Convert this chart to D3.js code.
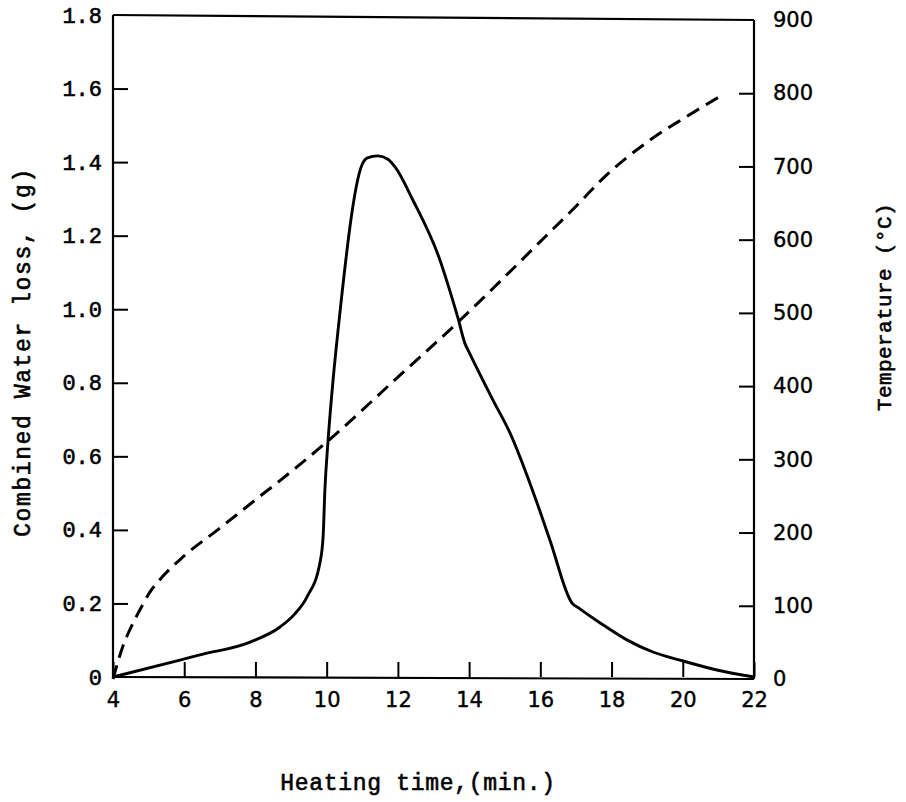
<!DOCTYPE html>
<html>
<head>
<meta charset="utf-8">
<script src="https://cdn.jsdelivr.net/npm/d3@7"></script>
<style>
  html, body { margin: 0; padding: 0; background: #fff; }
  svg { display: block; }
</style>
</head>
<body>
<svg id="chart" width="906" height="802"></svg>
<script>
// ---- data ----
const xTicks = [4, 6, 8, 10, 12, 14, 16, 18, 20, 22];
const yLeftTicks = [0, 0.2, 0.4, 0.6, 0.8, 1.0, 1.2, 1.4, 1.6, 1.8];
const yLeftLabels = ["0", "0.2", "0.4", "0.6", "0.8", "1.0", "1.2", "1.4", "1.6", "1.8"];
const yRightTicks = [0, 100, 200, 300, 400, 500, 600, 700, 800, 900];

// Combined water loss (g) vs heating time (min) - solid
const waterTime = [4, 5.88, 6.44, 7.85, 8.69, 9.1, 9.45, 9.81, 9.90, 9.95, 10.04, 10.18, 10.32, 10.99, 11.13, 11.44, 11.72, 11.92, 12.42, 13.18, 13.46, 13.69, 13.89, 13.97, 14.67, 15.15, 15.85, 16.27, 16.89, 17.1, 17.68, 18.43, 19.16, 19.92, 20.96, 22];
const waterLoss = [0, 0.046, 0.060, 0.095, 0.136, 0.171, 0.218, 0.31, 0.381, 0.508, 0.644, 0.808, 0.943, 1.392, 1.411, 1.417, 1.408, 1.387, 1.297, 1.134, 1.05, 0.975, 0.905, 0.889, 0.753, 0.663, 0.489, 0.372, 0.201, 0.186, 0.147, 0.101, 0.068, 0.046, 0.019, 0];

// Temperature (°C) vs heating time (min) - dashed
const tempTime = [4, 4.28, 4.56, 4.84, 5.04, 5.32, 5.97, 6.92, 8.27, 8.69, 9.25, 10.01, 12.06, 13.66, 14.87, 15.99, 17.11, 17.68, 19.08, 20.0, 21.13];
const temperature = [0, 45, 76, 102, 119, 136, 167, 203, 255, 271, 293, 324, 415, 486, 543, 597, 651, 680, 736, 765, 798];

// ---- layout ----
const svg = d3.select("#chart");
const left = 113, right = 754;

const x = d3.scaleLinear().domain([4, 22]).range([left, right]);
const yL = d3.scaleLinear().domain([0, 1.8]).range([677, 15]);
const yR = d3.scaleLinear().domain([0, 900]).range([679, 20]);

const numFont = "'DejaVu Sans', sans-serif";
const monoFont = "'Liberation Mono', 'DejaVu Sans Mono', monospace";

// frame
const frame = svg.append("g").attr("stroke", "#000").attr("stroke-width", 2.2).attr("fill", "none");
frame.append("line").attr("x1", left).attr("y1", yL(0)).attr("x2", left).attr("y2", yL(1.8));
frame.append("line").attr("x1", right).attr("y1", yR(0)).attr("x2", right).attr("y2", yR(900));
frame.append("line").attr("x1", left).attr("y1", yL(1.8)).attr("x2", right).attr("y2", yR(900));
frame.append("line").attr("x1", left).attr("y1", yL(0)).attr("x2", right).attr("y2", yR(0));

// bottom axis (ticks pointing inward)
const xAxis = d3.axisBottom(x).tickValues(xTicks).tickSize(-15).tickPadding(12).tickFormat(d3.format("d"));
const gx = svg.append("g").attr("transform", `translate(0,${yL(0)})`).call(xAxis);
gx.select(".domain").remove();
gx.selectAll(".tick line").attr("stroke", "#000").attr("stroke-width", 2);
gx.selectAll(".tick text").attr("font-family", numFont).attr("font-size", 21).attr("fill", "#000")
  .attr("stroke", "#000").attr("stroke-width", 0.4).attr("dy", "0.85em");

// left axis
const yAxisL = d3.axisLeft(yL).tickValues(yLeftTicks).tickSize(-15).tickPadding(11)
  .tickFormat((d, i) => yLeftLabels[i]);
const gyl = svg.append("g").attr("transform", `translate(${left},0)`).call(yAxisL);
gyl.select(".domain").remove();
gyl.selectAll(".tick line").attr("stroke", "#000").attr("stroke-width", 2)
  .attr("display", d => (d === 0 || d === 1.8) ? "none" : null);
gyl.selectAll(".tick text").attr("font-family", monoFont).attr("font-size", 22).attr("fill", "#000")
  .attr("stroke", "#000").attr("stroke-width", 0.6);

// right axis
const yAxisR = d3.axisRight(yR).tickValues(yRightTicks).tickSize(-15).tickPadding(19).tickFormat(d3.format("d"));
const gyr = svg.append("g").attr("transform", `translate(${right},0)`).call(yAxisR);
gyr.select(".domain").remove();
gyr.selectAll(".tick line").attr("stroke", "#000").attr("stroke-width", 2)
  .attr("display", d => (d === 0 || d === 900) ? "none" : null);
gyr.selectAll(".tick text").attr("font-family", numFont).attr("font-size", 21).attr("fill", "#000")
  .attr("stroke", "#000").attr("stroke-width", 0.4);

// curves
const waterData = waterTime.map((t, i) => [t, waterLoss[i]]);
const tempData = tempTime.map((t, i) => [t, temperature[i]]);

svg.append("path")
  .datum(waterData)
  .attr("fill", "none").attr("stroke", "#000").attr("stroke-width", 2.9)
  .attr("stroke-linejoin", "round")
  .attr("d", d3.line().x(d => x(d[0])).y(d => yL(d[1])).curve(d3.curveMonotoneX));

svg.append("path")
  .datum(tempData)
  .attr("fill", "none").attr("stroke", "#000").attr("stroke-width", 3)
  .attr("stroke-dasharray", "14,8")
  .attr("d", d3.line().x(d => x(d[0])).y(d => yR(d[1])).curve(d3.curveMonotoneX));

// axis titles
const titleStyle = sel => sel.attr("font-family", monoFont).attr("fill", "#000")
  .attr("stroke", "#000").attr("stroke-width", 0.6);

svg.append("text")
  .attr("transform", "translate(30,352) rotate(-90)")
  .attr("text-anchor", "middle")
  .attr("font-size", 23).attr("letter-spacing", 1.6)
  .call(titleStyle)
  .text("Combined Water loss, (g)");

svg.append("text")
  .attr("transform", "translate(891,307) rotate(-90)")
  .attr("text-anchor", "middle")
  .attr("font-size", 21).attr("letter-spacing", 0.4)
  .call(titleStyle)
  .text("Temperature (°C)");

svg.append("text")
  .attr("x", 418).attr("y", 790)
  .attr("text-anchor", "middle")
  .attr("font-size", 23).attr("letter-spacing", 0.7)
  .call(titleStyle)
  .text("Heating time,(min.)");
</script>
</body>
</html>
